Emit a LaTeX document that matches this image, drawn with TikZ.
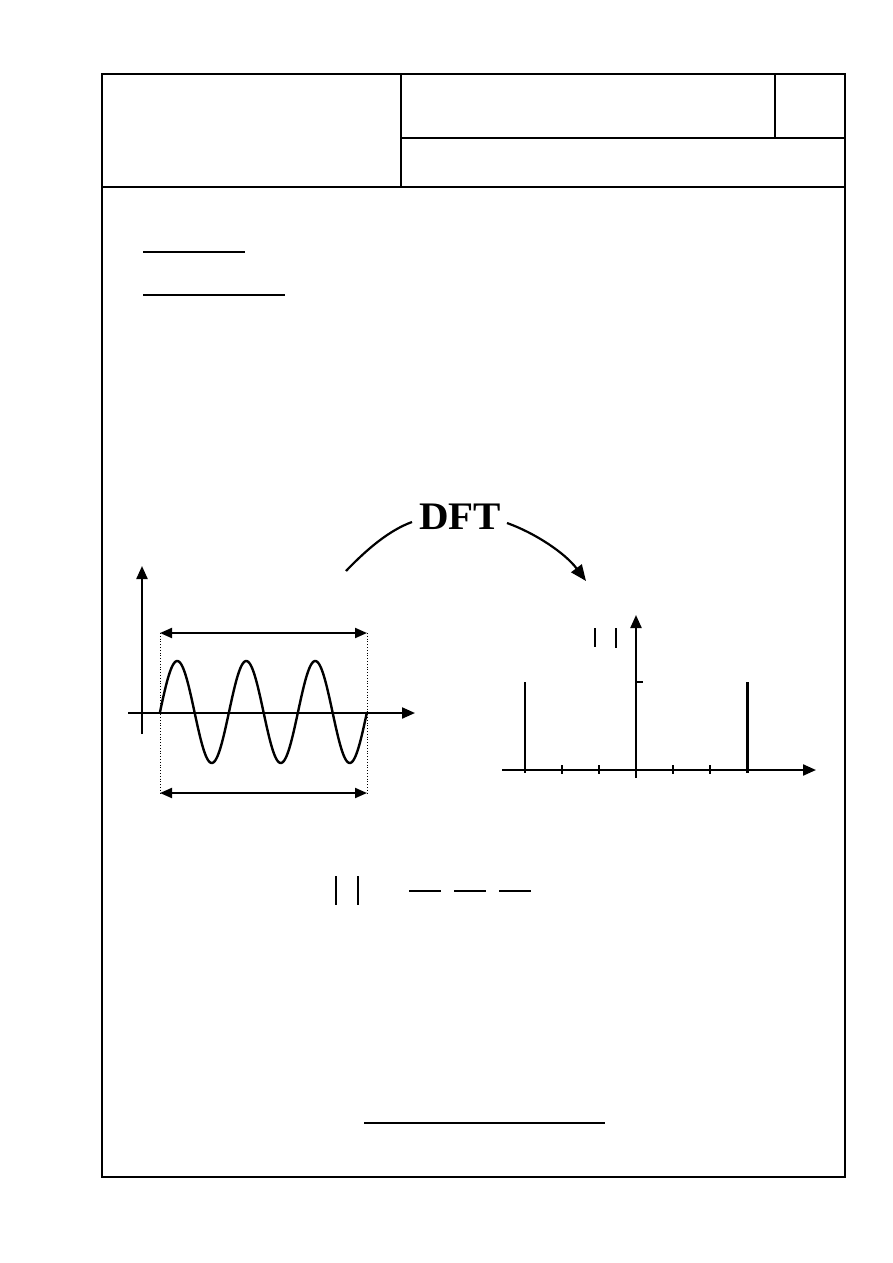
\documentclass[tikz,border=0pt]{standalone}
\usepackage{fontspec}
\setmainfont{Liberation Serif}
\usetikzlibrary{arrows.meta}
\begin{document}
\begin{tikzpicture}[x=1pt,y=-1pt,
  frame/.style={line width=1.8pt},
  axis/.style={line width=2.2pt,-{Triangle[length=13pt,width=11pt]}},
  dim/.style={line width=2pt,{Triangle[length=12pt,width=10pt]}-{Triangle[length=12pt,width=10pt]}},
  guide/.style={line width=0.8pt,dotted},
  bar/.style={line width=1.6pt},
  tick/.style={line width=2pt},
  spike/.style={line width=2.2pt}]
\useasboundingbox (0,0) rectangle (893,1263);
% frame
\draw[frame] (102,74) rectangle (845,1177);
\draw[frame] (102,187) -- (845,187);
\draw[frame] (401,74) -- (401,187);
\draw[frame] (401,138) -- (845,138);
\draw[frame] (775,74) -- (775,138);
% underlines
\draw[line width=2.4pt] (143,252) -- (245,252);
\draw[line width=1.6pt] (143,295) -- (285,295);
% DFT
\node[font=\bfseries\fontsize{39}{39}\selectfont, inner sep=0pt, xscale=1.05] (dft) at (460,517) {DFT};
\coordinate (ls) at (346,571);
\coordinate (le) at (412,522);
\coordinate (rs) at (507,523);
\coordinate (re) at (586,581);
\draw[line width=2.2pt] (ls) .. controls (368,548) and (390,530) .. (le);
\draw[line width=2.2pt,-{Triangle[length=16pt,width=13pt]}] (rs) .. controls (535,533) and (565,553) .. (re);
% left graph
\coordinate (yb) at (142,734);
\coordinate (yt) at (142,566);
\coordinate (xl) at (128,713);
\coordinate (xr) at (415,713);
\draw[axis] (yb) -- (yt);
\draw[axis] (xl) -- (xr);
\draw[line width=2.4pt] plot[domain=0:1080,samples=241] ({160+0.191667*\x},{712-51*sin(\x)});
\coordinate (g1t) at (160,633);
\coordinate (g1b) at (160,793);
\coordinate (g2t) at (367,633);
\coordinate (g2b) at (367,793);
\draw[guide] (g1t) -- (g1b);
\draw[guide] (g2t) -- (g2b);
\draw[dim] (g1t) -- (g2t);
\draw[dim] (g1b) -- (g2b);
% right graph
\coordinate (ryb) at (636,778);
\coordinate (ryt) at (636,615);
\coordinate (rxl) at (502,770);
\coordinate (rxr) at (816,770);
\draw[axis] (ryb) -- (ryt);
\draw[axis] (rxl) -- (rxr);
\draw[spike] (525,682) -- (525,773);
\draw[line width=3pt] (747,682) -- (747,773);
\draw[tick] (636,682) -- (643,682);
\foreach \t in {562,599} \draw[tick] (\t,765) -- (\t,774);
\foreach \t in {673,710} \draw[line width=2.6pt] (\t,765) -- (\t,774);
\draw[bar] (595,628) -- (595,647);
\draw[line width=2pt] (616,628) -- (616,648);
% formula
\draw[bar] (336,876) -- (336,905);
\draw[bar] (358,876) -- (358,905);
\draw[line width=1.3pt] (409,891) -- (441,891);
\draw[line width=1.3pt] (454,891) -- (486,891);
\draw[line width=1.3pt] (499,891) -- (531,891);
% bottom line
\draw[line width=2.4pt] (364,1123) -- (605,1123);
\end{tikzpicture}
\end{document}
